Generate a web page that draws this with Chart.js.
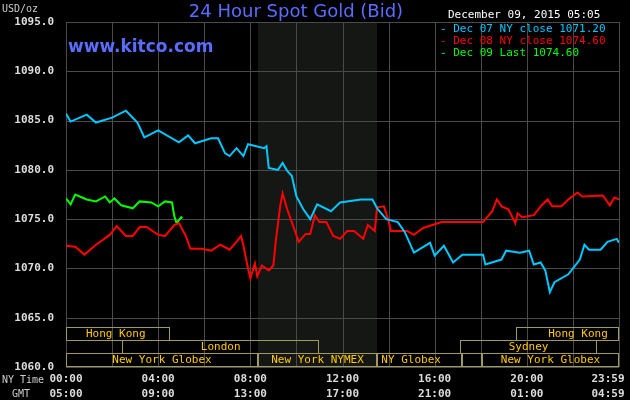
<!DOCTYPE html>
<html><head><meta charset="utf-8">
<script src="https://cdn.jsdelivr.net/npm/chart.js@4"></script>
<style>html,body{margin:0;background:#000}#w{width:630px;height:400px}</style>
</head><body><div id="w"><canvas id="c"></canvas></div>
<script>
const dec07Hours=[0,0.2,0.9,1.3,2,2.6,3.1,3.4,4.0,4.9,5.3,5.6,6.3,6.6,6.9,7.1,7.4,7.7,7.9,8.6,8.7,8.8,9.2,9.4,9.6,9.8,10.0,10.3,10.6,10.9,11.5,11.9,12.8,13.3,13.5,13.9,14.4,14.7,15.1,15.8,16.0,16.4,16.8,17.2,18.1,18.2,18.9,19.1,19.7,20.1,20.3,20.6,20.8,21.0,21.2,21.8,22.3,22.5,22.7,23.2,23.5,23.9,24];
const dec07Values=[1085.7,1084.9,1085.6,1084.8,1085.3,1086.0,1084.8,1083.3,1084.0,1082.8,1083.5,1082.7,1083.2,1083.2,1081.7,1081.4,1082.2,1081.4,1082.6,1082.2,1082.4,1080.2,1080.0,1080.7,1079.9,1079.4,1077.3,1076.0,1075.0,1076.5,1075.8,1076.7,1077.0,1077.0,1076.1,1075.0,1074.7,1073.7,1071.6,1072.6,1071.3,1072.3,1070.6,1071.4,1071.4,1070.4,1070.9,1071.8,1071.6,1071.8,1070.4,1070.6,1069.8,1067.6,1068.6,1069.4,1070.9,1072.4,1071.9,1071.9,1072.7,1073.0,1072.6];
const dec08Hours=[0,0.4,0.8,1.3,1.9,2.2,2.6,2.9,3.2,3.5,4.0,4.3,4.7,4.9,5.2,5.4,5.9,6.3,6.7,7.1,7.4,7.6,7.7,7.9,8.0,8.2,8.3,8.5,8.8,9.0,9.1,9.3,9.4,9.6,9.8,10.1,10.4,10.6,10.8,11.0,11.3,11.6,11.9,12.2,12.5,12.9,13.1,13.4,13.5,13.8,14.0,14.1,14.8,15.1,15.5,16.3,18.1,18.5,18.7,18.9,19.2,19.5,19.6,19.8,20.3,20.6,20.9,21.1,21.5,21.8,22.2,22.4,23.3,23.6,23.8,24];
const dec08Values=[1072.3,1072.2,1071.4,1072.4,1073.4,1074.3,1073.3,1073.3,1074.2,1074.2,1073.4,1073.3,1074.4,1074.6,1073.3,1072.0,1072.0,1071.8,1072.4,1071.9,1072.7,1073.3,1072.3,1070.0,1069.0,1070.5,1069.2,1070.3,1069.8,1070.3,1072.7,1076.4,1077.6,1076.0,1074.7,1072.7,1073.5,1073.5,1075.4,1074.7,1074.7,1073.3,1073.0,1073.8,1073.8,1073.0,1074.4,1073.8,1076.2,1076.3,1074.8,1073.8,1073.8,1073.4,1074.1,1074.7,1074.7,1075.8,1077.0,1076.3,1076.0,1074.6,1075.6,1075.2,1075.4,1076.3,1077.0,1076.3,1076.3,1077.0,1077.7,1077.3,1077.4,1076.4,1077.2,1077.0];
const dec09Hours=[0,0.2,0.4,0.9,1.3,1.7,1.9,2.1,2.4,2.9,3.2,3.7,4.0,4.3,4.6,4.7,4.8,5.0,5.05];
const dec09Values=[1077.1,1076.5,1077.5,1077.0,1076.8,1077.3,1076.7,1077.1,1076.4,1076.1,1076.8,1076.7,1076.3,1076.8,1076.7,1075.3,1074.6,1075.2,1075.1];
const seriesLabels=['Dec 07 NY close 1071.20','Dec 08 NY close 1074.60','Dec 09 Last 1074.60'];
const seriesColors=['#00c8ff','#ff0000','#00ff00'];
const nyTicks=['00:00','04:00','08:00','12:00','16:00','20:00','23:59'];
const gmtTicks=['05:00','09:00','13:00','17:00','21:00','01:00','04:59'];
const tickHours=[0,4,8,12,16,20,24];
const marketNames=['Hong Kong','London','New York Globex','New York NYMEX','NY Globex','','Sydney','Hong Kong','New York Globex'];
const marketStart=[0,2.43,0,8.33,13.5,17.2,17.1,19.55,18.05];
const marketEnd=[4.5,11.0,8.33,13.5,17.2,18.05,23.05,24,24];
const marketRow=[0,1,2,2,2,2,1,0,2];
const nymexBand=[8.33,13.5];

const mono='"DejaVu Sans Mono", monospace';
const toXY=(h,v)=>h.map((x,i)=>({x,y:v[i]}));
const deco={id:'deco',
 beforeDatasetsDraw(ch){const {ctx,chartArea:a,scales:{x,y}}=ch;
  ctx.save();ctx.fillStyle='#141714';
  ctx.fillRect(x.getPixelForValue(nymexBand[0]),a.top,x.getPixelForValue(nymexBand[1])-x.getPixelForValue(nymexBand[0]),a.bottom-a.top);
  ctx.strokeStyle='#4a4a4a';ctx.lineWidth=1;
  for(let h=0;h<=24;h+=2){const px=Math.round(x.getPixelForValue(h))+0.5;ctx.beginPath();ctx.moveTo(px,a.top);ctx.lineTo(px,a.bottom);ctx.stroke();}
  for(let v=1060;v<=1095;v+=5){const py=Math.round(y.getPixelForValue(v))+0.5;ctx.beginPath();ctx.moveTo(a.left,py);ctx.lineTo(a.right,py);ctx.stroke();}
  const rowTop=[327,340,353];
  ctx.strokeStyle='#a09a60';ctx.font='11px '+mono;ctx.fillStyle='#ffc800';ctx.textAlign='center';ctx.textBaseline='middle';
  marketNames.forEach((n,i)=>{const x0=Math.round(x.getPixelForValue(marketStart[i]))+0.5,x1=Math.round(x.getPixelForValue(marketEnd[i]))-0.5;const t=rowTop[marketRow[i]]+0.5;
   ctx.strokeRect(x0,t,x1-x0,13);});
  marketNames.forEach((n,i)=>{const x0=x.getPixelForValue(marketStart[i]),x1=x.getPixelForValue(marketEnd[i]);const t=rowTop[marketRow[i]];
   let cx=(x0+x1)/2; if(i===0)cx=x0+(x1-x0)*0.48; if(i===7)cx=x0+(x1-x0)*0.6; if(i===4)cx=x0+(x1-x0)*0.4;
   ctx.fillText(n,cx,t+7);});
  ctx.restore();},
 afterDraw(ch){const {ctx,scales:{x}}=ch;ctx.save();
  ctx.fillStyle='#ddd';ctx.font='bold 11px '+mono;ctx.textAlign='center';ctx.textBaseline='middle';
  tickHours.forEach((h,i)=>{let px=x.getPixelForValue(h);if(i===6)px-=11;ctx.fillText(nyTicks[i],px,379);ctx.fillText(gmtTicks[i],px,394);});
  ctx.font='10px '+mono;ctx.textAlign='left';ctx.fillStyle='#ccc';
  ctx.fillText('NY Time',2,380);ctx.fillText('GMT',12,394);ctx.fillText('USD/oz',2,9);
  ctx.textAlign='center';ctx.font='18px "DejaVu Sans", sans-serif';ctx.fillStyle='#5a6dff';
  ctx.fillText('24 Hour Spot Gold (Bid)',296,12);
  ctx.textAlign='left';ctx.font='bold 17px "DejaVu Sans", sans-serif';ctx.fillText('www.kitco.com',68,48);
  ctx.font='11px '+mono;ctx.fillStyle='#fff';ctx.fillText('December 09, 2015 05:05',448,15);
  seriesLabels.forEach((l,i)=>{ctx.fillStyle=seriesColors[i];ctx.fillText('- '+l,440,29+i*12);});
  ctx.restore();}};
new Chart(document.getElementById('c'),{type:'line',
 data:{datasets:[
  {data:toXY(dec07Hours,dec07Values),borderColor:seriesColors[0]},
  {data:toXY(dec08Hours,dec08Values),borderColor:seriesColors[1]},
  {data:toXY(dec09Hours,dec09Values),borderColor:seriesColors[2]}]},
 options:{responsive:true,maintainAspectRatio:false,animation:false,
  elements:{point:{radius:0},line:{borderWidth:2,tension:0}},
  layout:{padding:{left:0,right:11,top:22,bottom:0}},
  plugins:{legend:{display:false},tooltip:{enabled:false}},
  scales:{
   x:{type:'linear',min:0,max:24,grid:{display:false},border:{display:false},ticks:{display:false},afterFit(s){s.height=33;}},
   y:{min:1060,max:1095,grid:{display:false},border:{display:false},afterFit(s){s.width=66;},
     ticks:{stepSize:5,color:'#ddd',font:{family:mono,size:11,weight:'bold'},padding:4,callback:v=>v.toFixed(1)}}}},
 plugins:[deco]});
</script></body></html>
